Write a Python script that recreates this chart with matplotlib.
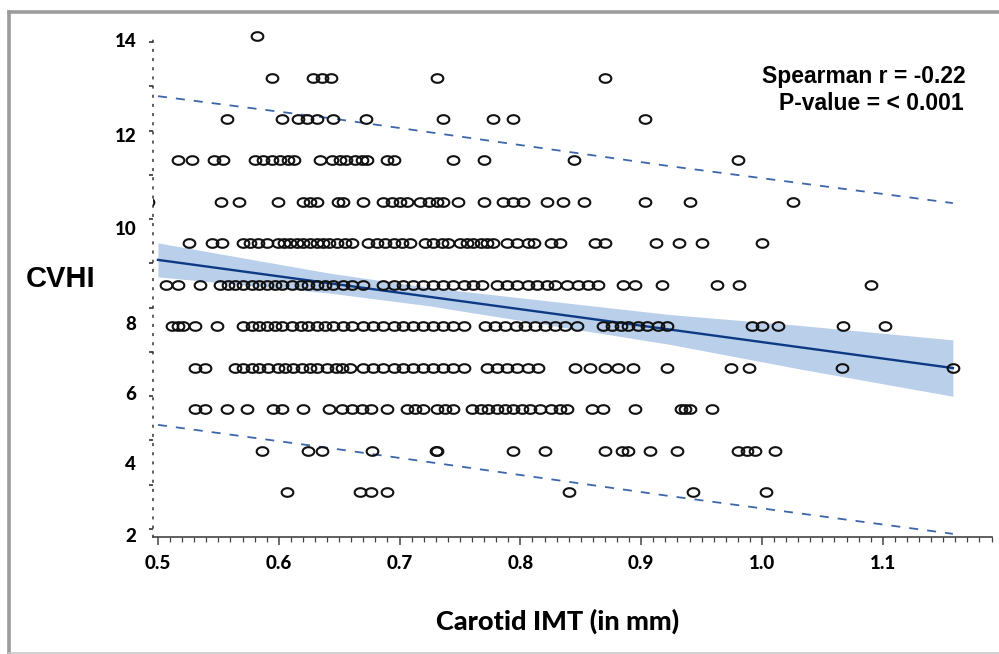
import numpy as np
import matplotlib
matplotlib.use("Agg")
import matplotlib.pyplot as plt
from matplotlib.path import Path
from matplotlib.lines import Line2D
from matplotlib.ticker import MultipleLocator, FixedLocator

# carotid IMT (mm) of each subject, grouped by CVHI score (one list per row)
imt_cvhi_14 = [0.582]
imt_cvhi_13 = [0.594, 0.628, 0.636, 0.643, 0.731, 0.870]
imt_cvhi_12 = [0.557, 0.603, 0.616, 0.623, 0.632, 0.645, 0.672, 0.736, 0.777,
               0.794, 0.903]
imt_cvhi_11 = [0.517, 0.528, 0.546, 0.554, 0.580, 0.587, 0.594, 0.601, 0.608,
               0.613, 0.634, 0.644, 0.651, 0.656, 0.663, 0.669, 0.673, 0.690,
               0.695, 0.744, 0.770, 0.844, 0.980]
imt_cvhi_10 = [0.492, 0.552, 0.567, 0.599, 0.620, 0.626, 0.632, 0.649, 0.653,
               0.670, 0.686, 0.694, 0.700, 0.706, 0.717, 0.724, 0.731, 0.736,
               0.748, 0.770, 0.786, 0.794, 0.802, 0.822, 0.835, 0.853, 0.903,
               0.940, 1.026]
imt_cvhi_9 = [0.526, 0.545, 0.553, 0.570, 0.576, 0.583, 0.590, 0.599, 0.604,
              0.609, 0.615, 0.620, 0.626, 0.632, 0.637, 0.642, 0.648, 0.655,
              0.661, 0.674, 0.681, 0.688, 0.695, 0.702, 0.709, 0.721, 0.728,
              0.735, 0.740, 0.750, 0.756, 0.761, 0.767, 0.772, 0.777, 0.789,
              0.797, 0.806, 0.811, 0.825, 0.833, 0.862, 0.870, 0.912, 0.931,
              0.950, 1.000]
imt_cvhi_8 = [0.507, 0.517, 0.535, 0.551, 0.558, 0.564, 0.570, 0.578, 0.584,
              0.590, 0.597, 0.603, 0.611, 0.618, 0.624, 0.632, 0.638, 0.645,
              0.653, 0.661, 0.670, 0.686, 0.695, 0.703, 0.711, 0.719, 0.728,
              0.736, 0.744, 0.753, 0.761, 0.768, 0.781, 0.789, 0.797, 0.806,
              0.814, 0.822, 0.829, 0.839, 0.848, 0.856, 0.864, 0.885, 0.895,
              0.917, 0.963, 0.981, 1.090]
imt_cvhi_7 = [0.512, 0.517, 0.521, 0.531, 0.549, 0.570, 0.578, 0.584, 0.590,
              0.597, 0.603, 0.611, 0.618, 0.624, 0.632, 0.638, 0.645, 0.653,
              0.661, 0.670, 0.678, 0.686, 0.695, 0.703, 0.711, 0.719, 0.728,
              0.736, 0.744, 0.753, 0.771, 0.779, 0.787, 0.796, 0.804, 0.812,
              0.820, 0.829, 0.837, 0.847, 0.868, 0.876, 0.883, 0.889, 0.897,
              0.905, 0.914, 0.921, 0.992, 1.000, 1.013, 1.067, 1.102]
imt_cvhi_6 = [0.531, 0.539, 0.564, 0.570, 0.578, 0.584, 0.591, 0.599, 0.605,
              0.612, 0.619, 0.626, 0.632, 0.640, 0.647, 0.652, 0.659, 0.670,
              0.678, 0.686, 0.695, 0.703, 0.711, 0.719, 0.728, 0.736, 0.744,
              0.753, 0.772, 0.781, 0.789, 0.797, 0.806, 0.815, 0.845, 0.858,
              0.870, 0.881, 0.893, 0.921, 0.974, 0.989, 1.066, 1.158]
imt_cvhi_5 = [0.531, 0.539, 0.557, 0.574, 0.595, 0.603, 0.620, 0.642, 0.652,
              0.661, 0.669, 0.676, 0.690, 0.706, 0.713, 0.719, 0.731, 0.738,
              0.744, 0.760, 0.767, 0.773, 0.781, 0.787, 0.794, 0.801, 0.808,
              0.816, 0.825, 0.833, 0.839, 0.859, 0.868, 0.895, 0.933, 0.936,
              0.940, 0.959]
imt_cvhi_4 = [0.586, 0.624, 0.636, 0.677, 0.730, 0.731, 0.794, 0.820, 0.870,
              0.884, 0.889, 0.907, 0.930, 0.980, 0.988, 0.994, 1.011]
imt_cvhi_3 = [0.607, 0.667, 0.676, 0.690, 0.840, 0.943, 1.003]

cvhi_levels = [14, 13, 12, 11, 10, 9, 8, 7, 6, 5, 4, 3]
imt_rows = [imt_cvhi_14, imt_cvhi_13, imt_cvhi_12, imt_cvhi_11, imt_cvhi_10,
            imt_cvhi_9, imt_cvhi_8, imt_cvhi_7, imt_cvhi_6, imt_cvhi_5,
            imt_cvhi_4, imt_cvhi_3]

# fitted line, 95% CI band and prediction limits
fit_x = [0.5, 1.158]
fit_y = [8.60, 5.99]
band_x = [0.5, 0.642, 0.725, 0.924, 1.031, 1.158]
band_upper = [9.01, 8.28, 7.93, 7.28, 7.02, 6.67]
band_lower = [8.19, 7.80, 7.49, 6.56, 5.97, 5.31]
pi_x = [0.5, 0.642, 0.924, 1.158]
pi_upper = [12.55, 12.02, 10.86, 9.97]
pi_lower = [4.62, 4.06, 2.90, 1.99]

x_ticks = [0.5, 0.6, 0.7, 0.8, 0.9, 1.0, 1.1]
y_labels = ["14", "12", "10", "8", "6", "4", "2"]
y_label_pos = [13.905, 11.613, 9.369, 7.077, 5.388, 3.700, 1.963]

W, H = 999, 654
fig = plt.figure(figsize=(W / 100, H / 100), dpi=100)
ax = fig.add_axes([153 / W, 1 - 537 / H, 839 / W, 497 / H])

# slightly squashed circle, like the original export
t = np.linspace(0, 2 * np.pi, 80)
ellipse = Path(np.column_stack([np.cos(t), 0.74 * np.sin(t)]))

ax.fill_between(band_x, band_lower, band_upper, color="#b9cfea", lw=0, zorder=1)
ax.plot(fit_x, fit_y, color="#0e3a85", lw=1.7, zorder=2)
ax.plot(pi_x, pi_upper, color="#3d66aa", lw=1.3, ls=(0, (5, 5)), zorder=2)
ax.plot(pi_x, pi_lower, color="#3d66aa", lw=1.3, ls=(0, (5, 5)), zorder=2)

for level, xs in zip(cvhi_levels, imt_rows):
    ax.plot(xs, [level] * len(xs), ls="none", marker=ellipse, ms=8.4,
            mfc="none", mec="#111111", mew=1.5, zorder=3,
            clip_on=(level != 14))

ax.set_xlim(0.4959, 1.1904)
ax.set_ylim(1.914, 13.9)

for s in ["top", "right"]:
    ax.spines[s].set_visible(False)
ax.spines["bottom"].set_color("#444444")
ax.spines["bottom"].set_linewidth(1.2)
ax.spines["left"].set_color("#333333")
ax.spines["left"].set_linewidth(1.1)
ax.spines["left"].set_linestyle((0, (1, 5)))

tick_font = dict(family="Lato", weight="black", size=13.5)
ax.set_xticks(x_ticks)
ax.set_xticklabels(["%.1f" % v for v in x_ticks], **tick_font)
ax.xaxis.set_minor_locator(MultipleLocator(0.01))
ax.tick_params(axis="x", which="major", direction="out", length=6, width=1.1,
               color="#444444", pad=7)
ax.tick_params(axis="x", which="minor", direction="out", length=3.5,
               width=0.9, color="#444444")

ax.set_yticks(y_label_pos)
ax.set_yticklabels(y_labels, **tick_font)
ax.yaxis.set_minor_locator(FixedLocator(
    [13.857, 12.789, 11.721, 10.652, 9.584, 8.516, 7.448, 6.380, 5.311,
     4.243, 3.175, 2.107]))
ax.tick_params(axis="y", which="major", length=0, pad=12)
ax.tick_params(axis="y", which="minor", direction="out", length=3, width=1.2,
               color="#333333")

fig.text(26 / W, 1 - 287 / H, "CVHI", family="Liberation Sans",
         weight="bold", size=21, ha="left", va="baseline")
fig.text(558 / W, 1 - 630 / H, "Carotid IMT (in mm)", family="Lato",
         weight="black", size=19.5, ha="center", va="baseline")
fig.text(966 / W, 1 - 83 / H, "Spearman r = -0.22", family="Liberation Sans",
         weight="bold", size=16.5, ha="right", va="baseline")
fig.text(964 / W, 1 - 110 / H, "P-value = < 0.001", family="Liberation Sans",
         weight="bold", size=16.5, ha="right", va="baseline")

# grey frame around the panel
frame = dict(transform=fig.transFigure, color="#9c9c9c", lw=2.6)
fig.add_artist(Line2D([9 / W, 9 / W], [1 - 12 / H, 0], **frame))
fig.add_artist(Line2D([9 / W, 1], [1 - 12 / H, 1 - 12 / H], **frame))
fig.add_artist(Line2D([9 / W, 1], [1 - 653 / H, 1 - 653 / H],
                      transform=fig.transFigure, color="#c8c8c8", lw=1.2))

fig.savefig("out.png", dpi=100)
